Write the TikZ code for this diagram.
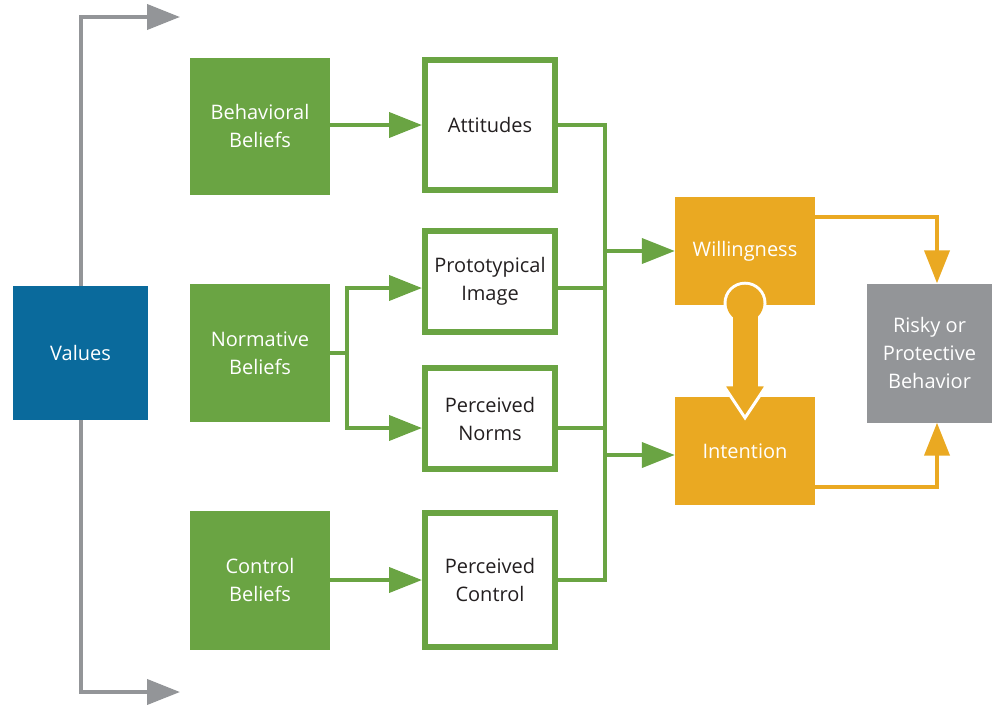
\documentclass[tikz,border=0pt]{standalone}
\usepackage{fontspec}
\setsansfont{Open Sans}
\usetikzlibrary{arrows.meta,calc}

\definecolor{valblue}{RGB}{10,106,156}
\definecolor{beliefgreen}{RGB}{106,164,67}
\definecolor{choiceorange}{RGB}{234,169,34}
\definecolor{behavgrey}{RGB}{147,149,152}
\definecolor{textdark}{RGB}{35,31,32}

\tikzset{
	box/.style={inner sep=0pt, align=center, font=\sffamily\fontsize{20}{28}\selectfont},
	valbox/.style={box, fill=valblue, text=white, minimum width=135pt, minimum height=134pt},
	beliefbox/.style={box, fill=beliefgreen, text=white, minimum width=140pt},
	factorbox/.style={box, draw=beliefgreen, line width=6pt, fill=white, text=textdark, minimum width=130pt},
	choicebox/.style={box, fill=choiceorange, text=white, minimum width=140pt, minimum height=108pt},
	behavbox/.style={box, fill=behavgrey, text=white, minimum width=125pt, minimum height=139pt},
	tip/.style={-{Triangle[length=33pt,width=25pt]}},
	greyarrow/.style={tip, draw=behavgrey, line width=4pt},
	greenline/.style={draw=beliefgreen, line width=4pt},
	greenarrow/.style={tip, greenline},
	orangearrow/.style={tip, draw=choiceorange, line width=4pt},
}

\begin{document}
\begin{tikzpicture}[x=1pt, y=-1pt]
	\useasboundingbox (0,0) rectangle (992,704);
	% boxes
	\node[valbox] (values) at (80.5,353) {Values};
	\node[beliefbox, minimum height=137pt] (behavioral) at (260,126) {Behavioral\\Beliefs};
	\node[beliefbox, minimum height=138pt] (normative) at (260,353) {Normative\\Beliefs};
	\node[beliefbox, minimum height=139pt] (controlb) at (260,580) {Control\\Beliefs};
	\node[factorbox, minimum height=130pt] (attitudes) at (490,125) {Attitudes};
	\node[factorbox, minimum height=101pt] (proto) at (490,281.5) {Prototypical\\Image};
	\node[factorbox, minimum height=101pt] (norms) at (490,418.5) {Perceived\\Norms};
	\node[factorbox, minimum height=134pt] (control) at (490,580) {Perceived\\Control};
	\node[choicebox] (willing) at (745,251) {Willingness};
	\node[choicebox] (intention) at (745,451) {Intention};
	\node[behavbox] (behavior) at (929.5,353) {Risky or\\Protective\\Behavior};

	% values
	\coordinate (vtop) at (180,17);
	\coordinate (vbot) at (180,692);
	\draw[greyarrow] (values.north) |- (vtop);
	\draw[greyarrow] (values.south) |- (vbot);

	% beliefs
	\draw[greenarrow] (behavioral.east |- attitudes.west) -- (attitudes.west);
	\draw[greenline] (normative.east) -- ++(17,0) coordinate (nsplit);
	\draw[greenarrow] (nsplit) |- ($(proto.west)+(0,6.5)$);
	\draw[greenarrow] (nsplit) |- ($(norms.west)+(0,9.5)$);
	\draw[greenarrow] (controlb.east) -- (control.west);

	% merge
	\draw[greenline] (attitudes.east) -- ++(47,0) coordinate (mtop) |- (control.east);
	\draw[greenline] ($(proto.east)+(0,6.5)$) -- ($(proto.east -| mtop)+(0,6.5)$);
	\draw[greenline] ($(norms.east)+(0,9.5)$) -- ($(norms.east -| mtop)+(0,9.5)$);
	\draw[greenarrow] (mtop |- willing.west) -- (willing.west);
	\draw[greenarrow] ($(mtop |- intention.west)+(0,4)$) -- ($(intention.west)+(0,4)$);

	% behavior
	\draw[orangearrow] ($(willing.east)+(0,-34)$) -| ($(behavior.north)+(7.5,0)$);
	\draw[orangearrow] ($(intention.east)+(0,36)$) -| ($(behavior.south)+(7.5,0)$);

	% willingness to intention
	\coordinate (ball) at ($(willing.south)+(0,-2)$);
	\coordinate (head) at ($(intention.north)+(0,21)$);
	\fill[white] (ball) circle[radius=21.5];
	\filldraw[draw=white, fill=choiceorange, line width=3pt] ($(head)+(-22,-33)$) -- ($(head)+(22,-33)$) -- (head) -- cycle;
	\draw[choiceorange, line width=25pt] (ball) -- ($(ball |- head)+(0,-31)$);
	\fill[choiceorange] (ball) circle[radius=18.5];

\end{tikzpicture}
\end{document}
